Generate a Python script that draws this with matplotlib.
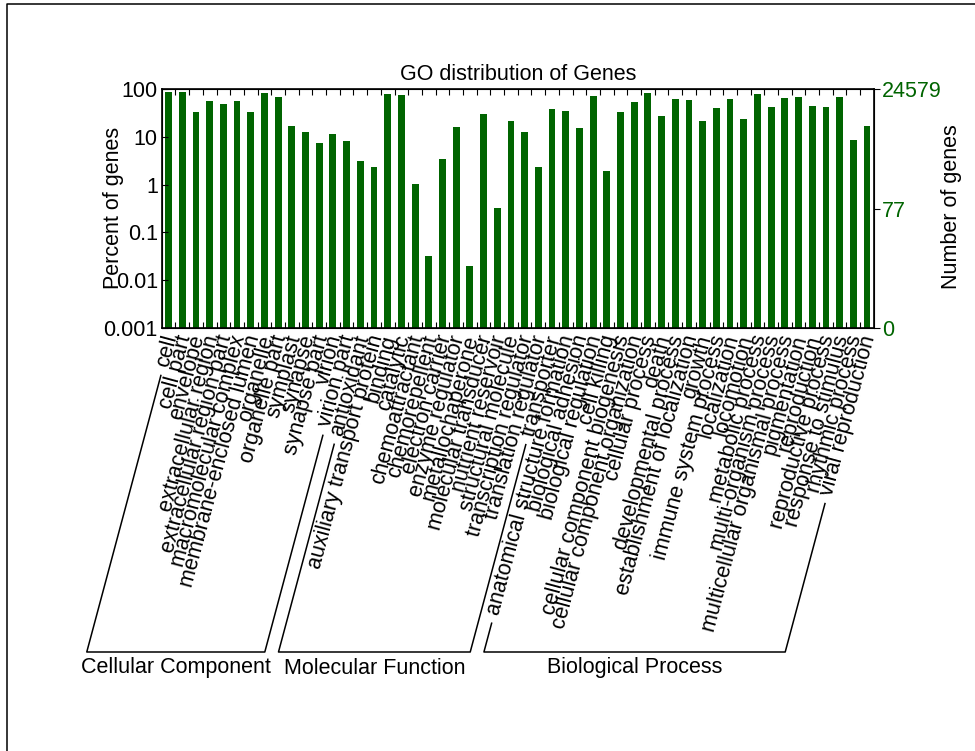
import numpy as np
import matplotlib
matplotlib.use("Agg")
import matplotlib.pyplot as plt
import matplotlib.transforms as mtransforms
from matplotlib.lines import Line2D
from matplotlib.ticker import NullLocator

plt.rcParams['font.family'] = ['Liberation Sans', 'DejaVu Sans']

# GO terms per category
cc_terms = ["cell", "cell part", "envelope", "extracellular region",
            "extracellular region part", "macromolecular complex",
            "membrane-enclosed lumen", "organelle", "organelle part",
            "symplast", "synapse", "synapse part", "virion", "virion part"]
mf_terms = ["antioxidant", "auxiliary transport protein", "binding", "catalytic",
            "chemoattractant", "chemorepellent", "electron carrier",
            "enzyme regulator", "metallochaperone", "molecular transducer",
            "nutrient reservoir", "structural molecule", "transcription regulator",
            "translation regulator", "transporter"]
bp_terms = ["anatomical structure formation", "biological adhesion",
            "biological regulation", "cell killing", "cellular component biogenesis",
            "cellular component organization", "cellular process", "death",
            "developmental process", "establishment of localization", "growth",
            "immune system process", "localization", "locomotion",
            "metabolic process", "multi-organism process",
            "multicellular organismal process", "pigmentation", "reproduction",
            "reproductive process", "response to stimulus", "rhythmic process",
            "viral reproduction"]

# percent of genes
cc_percent = [86.5, 86.5, 33, 58, 48, 57, 33, 82, 68, 17, 13, 7.5, 11.7, 8.1]
mf_percent = [3.1, 2.35, 81, 77, 1.05, 0.031, 3.5, 16, 0.02, 30.4,
              0.33, 21.3, 12.7, 2.3, 39.3]
bp_percent = [34.5, 15.2, 73.6, 1.94, 33.4, 53.3, 82.5, 28, 61.7, 58.8, 21.7,
              41.2, 61.7, 24.3, 79.8, 42.6, 66.8, 70.2, 44, 43.3, 68, 8.65, 17]

group_names = ["Cellular Component", "Molecular Function", "Biological Process"]
left_ticks = [0.001, 0.01, 0.1, 1, 10, 100]
left_labels = ["0.001", "0.01", "0.1", "1", "10", "100"]
total_genes = 24579
mid_genes = 77

GREEN = "#006400"
FS = 15.5
W, H = 975, 751
ANG = 75

fig = plt.figure(figsize=(W / 100, H / 100), dpi=100)
ax = fig.add_axes([162 / W, 1 - 327.5 / H, 712 / W, 238.2 / H])

terms = cc_terms + mf_terms + bp_terms
percent = np.array(cc_percent + mf_percent + bp_percent)
x = np.arange(len(terms))

ax.bar(x, percent - 0.001, bottom=0.001, width=0.5, color=GREEN, linewidth=0)
ax.set_yscale('log')
ax.set_ylim(0.001, 100)
ax.set_xlim(-0.48, len(terms) - 0.49)
ax.set_yticks(left_ticks)
ax.set_yticklabels(left_labels)
ax.yaxis.set_minor_locator(NullLocator())
ax.tick_params(axis='y', direction='in', length=4, pad=3, labelsize=FS)
ax.set_xticks(x[:-1] + 0.5)
ax.tick_params(axis='x', direction='in', length=4, top=True, bottom=True,
               labelbottom=False)
for sp in ax.spines.values():
    sp.set_linewidth(1.2)

ax.set_title("GO distribution of Genes", fontsize=FS, pad=7)

# right axis with gene numbers
ax2 = ax.twinx()
ax2.set_yscale('log')
ax2.set_ylim(0.001, 100)
ax2.set_yticks([0.001, mid_genes / total_genes * 100, 100])
ax2.set_yticklabels(["0", str(mid_genes), str(total_genes)])
ax2.yaxis.set_minor_locator(NullLocator())
ax2.tick_params(axis='y', direction='out', length=4, pad=2, labelsize=FS,
                labelcolor=GREEN)

fig.text(113 / W, 1 - 208 / H, "Percent of genes", rotation=90,
         ha='center', va='center', fontsize=FS)
fig.text(952 / W, 1 - 207 / H, "Number of genes", rotation=90,
         ha='center', va='center', fontsize=FS)

# rotated category labels
base = mtransforms.blended_transform_factory(ax.transData, ax.transAxes)
trans = mtransforms.offset_copy(base, fig=fig, x=3, y=-8, units='dots')
for i, t in enumerate(terms):
    ax.text(i, 0, t, transform=trans, rotation=ANG, ha='right', va='center',
            rotation_mode='anchor', fontsize=FS, clip_on=False)

# brackets under each group
fig.canvas.draw()
renderer = fig.canvas.get_renderer()
c, s = np.cos(np.radians(ANG)), np.sin(np.radians(ANG))
gap = 9
y_bot = H - 652


def label_start(i):
    tmp = fig.text(0, 0, terms[i], fontsize=FS)
    w = tmp.get_window_extent(renderer).width
    tmp.remove()
    ax_, ay_ = trans.transform((i, 0))
    return ax_ - (w + gap) * c, ay_ - (w + gap) * s


def add_line(xs, ys):
    fig.add_artist(Line2D(np.array(xs) / W, np.array(ys) / H,
                          transform=fig.transFigure, color='black', lw=1.1))


sizes = [len(cc_terms), len(mf_terms), len(bp_terms)]
start = 0
for name, n in zip(group_names, sizes):
    x0, y0 = label_start(start)
    x1, y1 = label_start(start + n - 1)
    xb0 = x0 - (y0 - y_bot) * c / s
    xb1 = x1 - (y1 - y_bot) * c / s
    add_line([x0, xb0, xb1, x1], [y0, y_bot, y_bot, y1])
    fig.text((xb0 + xb1) / 2 / W, 1 - 668 / H, name, ha='center', va='center',
             fontsize=FS)
    start += n

# frame (only top and left edge are in the picture)
add_line([7, 7, W], [0, H - 4, H - 4])

fig.savefig("out.png", dpi=100)
